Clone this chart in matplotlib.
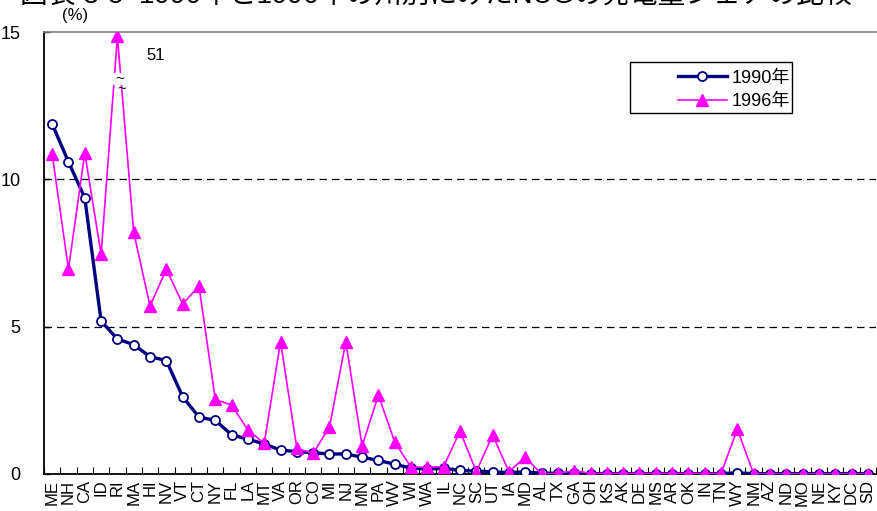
import matplotlib
matplotlib.use("Agg")
import matplotlib.pyplot as plt
from matplotlib.patches import Rectangle
import numpy as np

plt.rcParams['font.family'] = ['Liberation Sans', 'Noto Sans CJK JP', 'DejaVu Sans']

states = ["ME", "NH", "CA", "ID", "RI", "MA", "HI", "NV", "VT", "CT", "NY", "FL", "LA",
          "MT", "VA", "OR", "CO", "MI", "NJ", "MN", "PA", "WV", "WI", "WA", "IL", "NC",
          "SC", "UT", "IA", "MD", "AL", "TX", "GA", "OH", "KS", "AK", "DE", "MS", "AR",
          "OK", "IN", "TN", "WY", "NM", "AZ", "ND", "MO", "NE", "KY", "DC", "SD"]

share_1990 = [11.88, 10.59, 9.37, 5.19, 4.58, 4.39, 3.98, 3.85, 2.62, 1.93, 1.82, 1.33, 1.18,
              1.02, 0.81, 0.76, 0.72, 0.68, 0.68, 0.57, 0.46, 0.33, 0.20, 0.17, 0.19, 0.12,
              0.10, 0.07, 0.05, 0.07, 0.03, 0.02, 0.02, 0.01, 0.01, 0.01, 0.01, 0.01, 0.01,
              0.01, 0.01, 0.01, 0.04, 0.01, 0.01, 0.01, 0.01, 0.01, 0.01, 0.01, 0.01]

share_1996 = [10.86, 6.95, 10.9, 7.45, 51.0, 8.2, 5.7, 6.95, 5.77, 6.38, 2.53, 2.34, 1.49,
              1.04, 4.49, 0.87, 0.70, 1.60, 4.49, 0.95, 2.68, 1.08, 0.23, 0.23, 0.25, 1.46,
              0.08, 1.32, 0.08, 0.57, 0.0, 0.03, 0.11, 0.02, 0.02, 0.02, 0.02, 0.02, 0.02,
              0.02, 0.02, 0.02, 1.52, 0.0, 0.0, 0.0, 0.0, 0.0, 0.0, 0.0, 0.0]

y_ticks = [0, 5, 10, 15]
y_cap = 14.85  # off-scale values are drawn at the top with a break mark

W, H = 877, 511
fig = plt.figure(figsize=(W / 100, H / 100), dpi=100)
ax = fig.add_axes([44 / W, 1 - 474 / H, 832 / W, 442 / H])

x = np.arange(len(states))
disp_1996 = [min(v, y_cap) for v in share_1996]

ax.plot(x, share_1990, color="#000080", lw=2.4, marker="o", ms=6.5,
        mfc="white", mec="#000080", mew=1.3, label="1990年", zorder=3)
ax.plot(x, disp_1996, color="#FF00FF", lw=1.2, marker="^", ms=8,
        mfc="#FF00FF", mec="#FF00FF", label="1996年", zorder=4)

# break mark for off-scale value
for i, v in enumerate(share_1996):
    if v > y_cap:
        ax.add_patch(Rectangle((i - 0.3, 13.2), 0.65, 0.42, facecolor="white",
                               edgecolor="none", zorder=5))
        ax.text(i + 0.15, 13.42, "~", fontsize=11, ha="center", va="center", zorder=6)
        ax.text(i + 0.25, 13.05, "~", fontsize=11, ha="center", va="center", zorder=6)
        ax.text(i + 1.75, 14.2, f"{v:g}", fontsize=12, ha="left", va="center")

ax.set_xlim(-0.5, len(states) - 0.5)
ax.set_ylim(0, 15)
ax.set_yticks(y_ticks)
ax.set_yticklabels([str(t) for t in y_ticks], fontsize=13)
ax.tick_params(axis="y", direction="in", length=4, width=1, pad=17)

ax.set_xticks(x)
ax.set_xticklabels(states, rotation=90, fontsize=12)
ax.tick_params(axis="x", which="major", length=0, pad=4)
ax.set_xticks(np.arange(-0.5, len(states), 1), minor=True)
ax.tick_params(axis="x", which="minor", direction="in", length=5, width=0.8)

for g in [5, 10]:
    ax.axhline(g, color="black", lw=0.9, ls=(0, (6, 4)), zorder=1)

ax.spines["top"].set_color("#808080")
ax.spines["top"].set_linewidth(1.2)
ax.spines["right"].set_visible(False)
ax.spines["left"].set_linewidth(1.3)
ax.spines["bottom"].set_linewidth(1.3)

# legend box drawn separately (Excel-style wide left margin)
fig.patches.append(Rectangle((630 / W, 1 - 113 / H), 162 / W, 51 / H,
                             transform=fig.transFigure, facecolor="white",
                             edgecolor="black", lw=1.0, zorder=10))
leg = fig.legend(loc="upper right", bbox_to_anchor=(803 / W, 1 - 57 / H),
                 fontsize=13, frameon=False, handlelength=2.7,
                 handletextpad=0.3, borderpad=0.2, labelspacing=0.35)
leg.set_zorder(11)

fig.text(75 / W, 1 - 15 / H, "(%)", fontsize=12, ha="center", va="center")
fig.text(20 / W, 1 - 3 / H,
         "図表 3-5  1990年と1996年の州別にみたNUGの発電量シェアの比較",
         fontsize=20, ha="left", va="baseline")

fig.savefig("out.png", dpi=100)
